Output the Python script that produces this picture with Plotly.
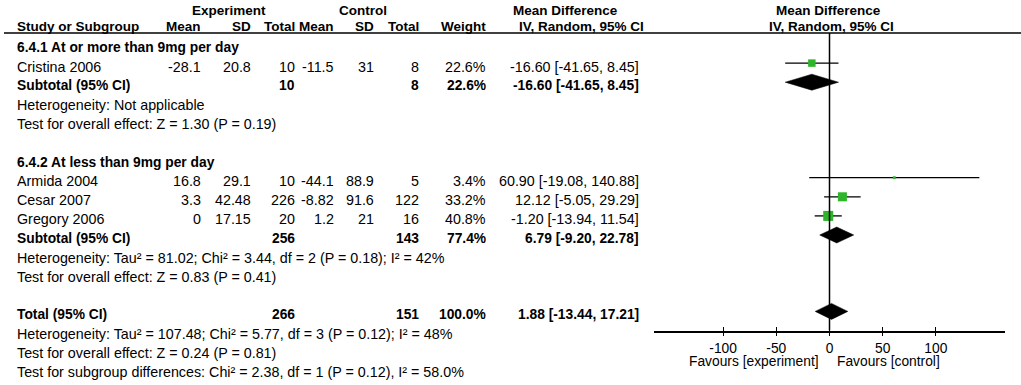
import math
import plotly.graph_objects as go

W, H = 1021, 385

# ---------------- data ----------------
studies = ["Cristina 2006", "Armida 2004", "Cesar 2007", "Gregory 2006"]
exp_mean = [-28.1, 16.8, 3.3, 0]
exp_sd = [20.8, 29.1, 42.48, 17.15]
exp_n = [10, 10, 226, 20]
ctl_mean = [-11.5, -44.1, -8.82, 1.2]
ctl_sd = [31, 88.9, 91.6, 21]
ctl_n = [8, 5, 122, 16]
weights = [22.6, 3.4, 33.2, 40.8]
md = [-16.60, 60.90, 12.12, -1.20]
ci_lo = [-41.65, -19.08, -5.05, -13.94]
ci_hi = [8.45, 140.88, 29.29, 11.54]

pooled_labels = ["Subtotal (95% CI)", "Subtotal (95% CI)", "Total (95% CI)"]
pooled_exp_n = [10, 256, 266]
pooled_ctl_n = [8, 143, 151]
pooled_weight = [22.6, 77.4, 100.0]
pooled_md = [-16.60, 6.79, 1.88]
pooled_lo = [-41.65, -9.20, -13.44]
pooled_hi = [8.45, 22.78, 17.21]

subgroups = ["6.4.1 At or more than 9mg per day", "6.4.2 At less than 9mg per day"]
heterogeneity = [
    "Heterogeneity: Not applicable",
    "Heterogeneity: Tau² = 81.02; Chi² = 3.44, df = 2 (P = 0.18); I² = 42%",
    "Heterogeneity: Tau² = 107.48; Chi² = 5.77, df = 3 (P = 0.12); I² = 48%",
]
overall = [
    "Test for overall effect: Z = 1.30 (P = 0.19)",
    "Test for overall effect: Z = 0.83 (P = 0.41)",
    "Test for overall effect: Z = 0.24 (P = 0.81)",
]
subgroup_test = "Test for subgroup differences: Chi² = 2.38, df = 1 (P = 0.12), I² = 58.0%"

x_ticks = [-100, -50, 0, 50, 100]
x_tick_labels = ["-100", "-50", "0", "50", "100"]
x_range = [-165, 165]
favours = ["Favours [experiment]", "Favours [control]"]

# ---------------- layout helpers ----------------
study_rows = [1, 7, 8, 9]
pooled_rows = [2, 10, 14]
subgroup_rows = [0, 6]
het_rows = [3, 11, 15]
overall_rows = [4, 12, 16]
subtest_row = 17

ROW0, ROWH = 44.0, 19.1
TXT_OFF = 3.5
AXIS_Y = 330.5
HEAD_Y = 33
D_HALF = 8

FONT = "Liberation Sans, Arial, sans-serif"
FS = 14.3
FSB = 13.8
GREEN = "#2fb52a"


def ry(r):
    return ROW0 + ROWH * r


annotations = []


def txt(x, y, s, anchor="left", bold=False, size=None):
    if size is None:
        size = FSB if bold else FS
    annotations.append(dict(
        x=x / W, y=1 - y / H, xref="paper", yref="paper",
        text=f"<b>{s}</b>" if bold else s, showarrow=False,
        xanchor=anchor, yanchor="middle",
        font=dict(family=FONT, size=size, color="black"),
    ))


def fmt(v):
    return f"{v:g}"


def ci_str(m, lo, hi):
    return f"{m:.2f} [{lo:.2f}, {hi:.2f}]"


COLS = dict(study=15, em=203, esd=253, en=297, cm=336, csd=376, cn=421, w=488, ci=641)

# headers
HS = 13.5
txt(229, 10.5, "Experiment", "center", True, HS)
txt(363, 10.5, "Control", "center", True, HS)
txt(565, 10.5, "Mean Difference", "center", True, HS)
txt(828, 10.5, "Mean Difference", "center", True, HS)
hy = 26.5
txt(COLS["study"], hy, "Study or Subgroup", "left", True, HS)
txt(COLS["em"], hy, "Mean", "right", True, HS)
txt(COLS["esd"], hy, "SD", "right", True, HS)
txt(COLS["en"], hy, "Total", "right", True, HS)
txt(COLS["cm"], hy, "Mean", "right", True, HS)
txt(COLS["csd"], hy, "SD", "right", True, HS)
txt(COLS["cn"], hy, "Total", "right", True, HS)
txt(COLS["w"], hy, "Weight", "right", True, HS)
txt(581, hy, "IV, Random, 95% CI", "center", True, HS)
txt(831, hy, "IV, Random, 95% CI", "center", True, HS)

for r, s in zip(subgroup_rows, subgroups):
    txt(COLS["study"], ry(r) + TXT_OFF, s, "left", True)

for i, r in enumerate(study_rows):
    y = ry(r) + TXT_OFF
    txt(COLS["study"], y, studies[i])
    txt(COLS["em"], y, fmt(exp_mean[i]), "right")
    txt(COLS["esd"], y, fmt(exp_sd[i]), "right")
    txt(COLS["en"], y, fmt(exp_n[i]), "right")
    txt(COLS["cm"], y, fmt(ctl_mean[i]), "right")
    txt(COLS["csd"], y, fmt(ctl_sd[i]), "right")
    txt(COLS["cn"], y, fmt(ctl_n[i]), "right")
    txt(COLS["w"], y, f"{weights[i]:.1f}%", "right")
    txt(COLS["ci"], y, ci_str(md[i], ci_lo[i], ci_hi[i]), "right")

for i, r in enumerate(pooled_rows):
    y = ry(r) + TXT_OFF
    txt(COLS["study"], y, pooled_labels[i], "left", True)
    txt(COLS["en"], y, fmt(pooled_exp_n[i]), "right", True)
    txt(COLS["cn"], y, fmt(pooled_ctl_n[i]), "right", True)
    txt(COLS["w"], y, f"{pooled_weight[i]:.1f}%", "right", True)
    txt(COLS["ci"], y, ci_str(pooled_md[i], pooled_lo[i], pooled_hi[i]), "right", True)

for r, s in zip(het_rows, heterogeneity):
    txt(COLS["study"], ry(r) + TXT_OFF, s)
for r, s in zip(overall_rows, overall):
    txt(COLS["study"], ry(r) + TXT_OFF, s)
txt(COLS["study"], ry(subtest_row) + TXT_OFF, subgroup_test)

txt(821, 361.5, favours[0], "right", size=13.8)
txt(835, 361.5, favours[1], "left", size=13.8)

# ---------------- traces ----------------
fig = go.Figure()

# CI whiskers
cx, cy = [], []
for i, r in enumerate(study_rows):
    cx += [ci_lo[i], ci_hi[i], None]
    cy += [ry(r), ry(r), None]
fig.add_trace(go.Scatter(x=cx, y=cy, mode="lines", line=dict(color="black", width=1.3),
                         hoverinfo="skip", showlegend=False))

# study squares
fig.add_trace(go.Scatter(
    x=md, y=[ry(r) for r in study_rows], mode="markers",
    marker=dict(symbol="square", color=GREEN, opacity=1,
                size=[1.57 * math.sqrt(w) for w in weights],
                line=dict(width=0)),
    showlegend=False, hoverinfo="skip"))

# pooled diamonds
for i, r in enumerate(pooled_rows):
    y = ry(r)
    fig.add_trace(go.Scatter(
        x=[pooled_lo[i], pooled_md[i], pooled_hi[i], pooled_md[i], pooled_lo[i]],
        y=[y, y - D_HALF, y, y + D_HALF, y],
        mode="lines", fill="toself", fillcolor="black",
        line=dict(color="black", width=0.5), showlegend=False, hoverinfo="skip"))

shapes = [
    dict(type="line", xref="paper", yref="paper", x0=4 / W, x1=1.0,
         y0=1 - HEAD_Y / H, y1=1 - HEAD_Y / H, line=dict(color="black", width=1.3)),
    dict(type="line", xref="x", yref="y", x0=0, x1=0, y0=HEAD_Y, y1=AXIS_Y,
         line=dict(color="black", width=1.5)),
]

x_dom = [654 / W, 1005 / W]
fig.update_layout(
    width=W, height=H,
    margin=dict(l=0, r=0, t=0, b=0),
    paper_bgcolor="white", plot_bgcolor="white",
    xaxis=dict(domain=x_dom, range=x_range, tickvals=x_ticks, ticktext=x_tick_labels,
               ticks="outside", ticklen=4, tickwidth=1.3, tickcolor="black",
               showline=True, linewidth=1.5, linecolor="black",
               showgrid=False, zeroline=False, anchor="y",
               tickfont=dict(family=FONT, size=13.8, color="black")),
    xaxis2=dict(domain=x_dom, range=x_range, tickvals=x_ticks, overlaying="x",
                matches="x", anchor="y", side="bottom",
                ticks="inside", ticklen=4, tickwidth=1.3, tickcolor="black",
                showticklabels=False, showline=False, showgrid=False, zeroline=False),
    yaxis=dict(domain=[(H - AXIS_Y) / H, 1], range=[AXIS_Y, 0], visible=False,
               showgrid=False, zeroline=False),
    shapes=shapes,
    annotations=annotations,
)
fig.add_trace(go.Scatter(x=[None], y=[None], xaxis="x2", yaxis="y", showlegend=False,
                         hoverinfo="skip"))

fig.write_html("out.html", config={"displayModeBar": False},
               post_script="document.body.style.margin='0px';document.body.style.overflow='hidden';")
